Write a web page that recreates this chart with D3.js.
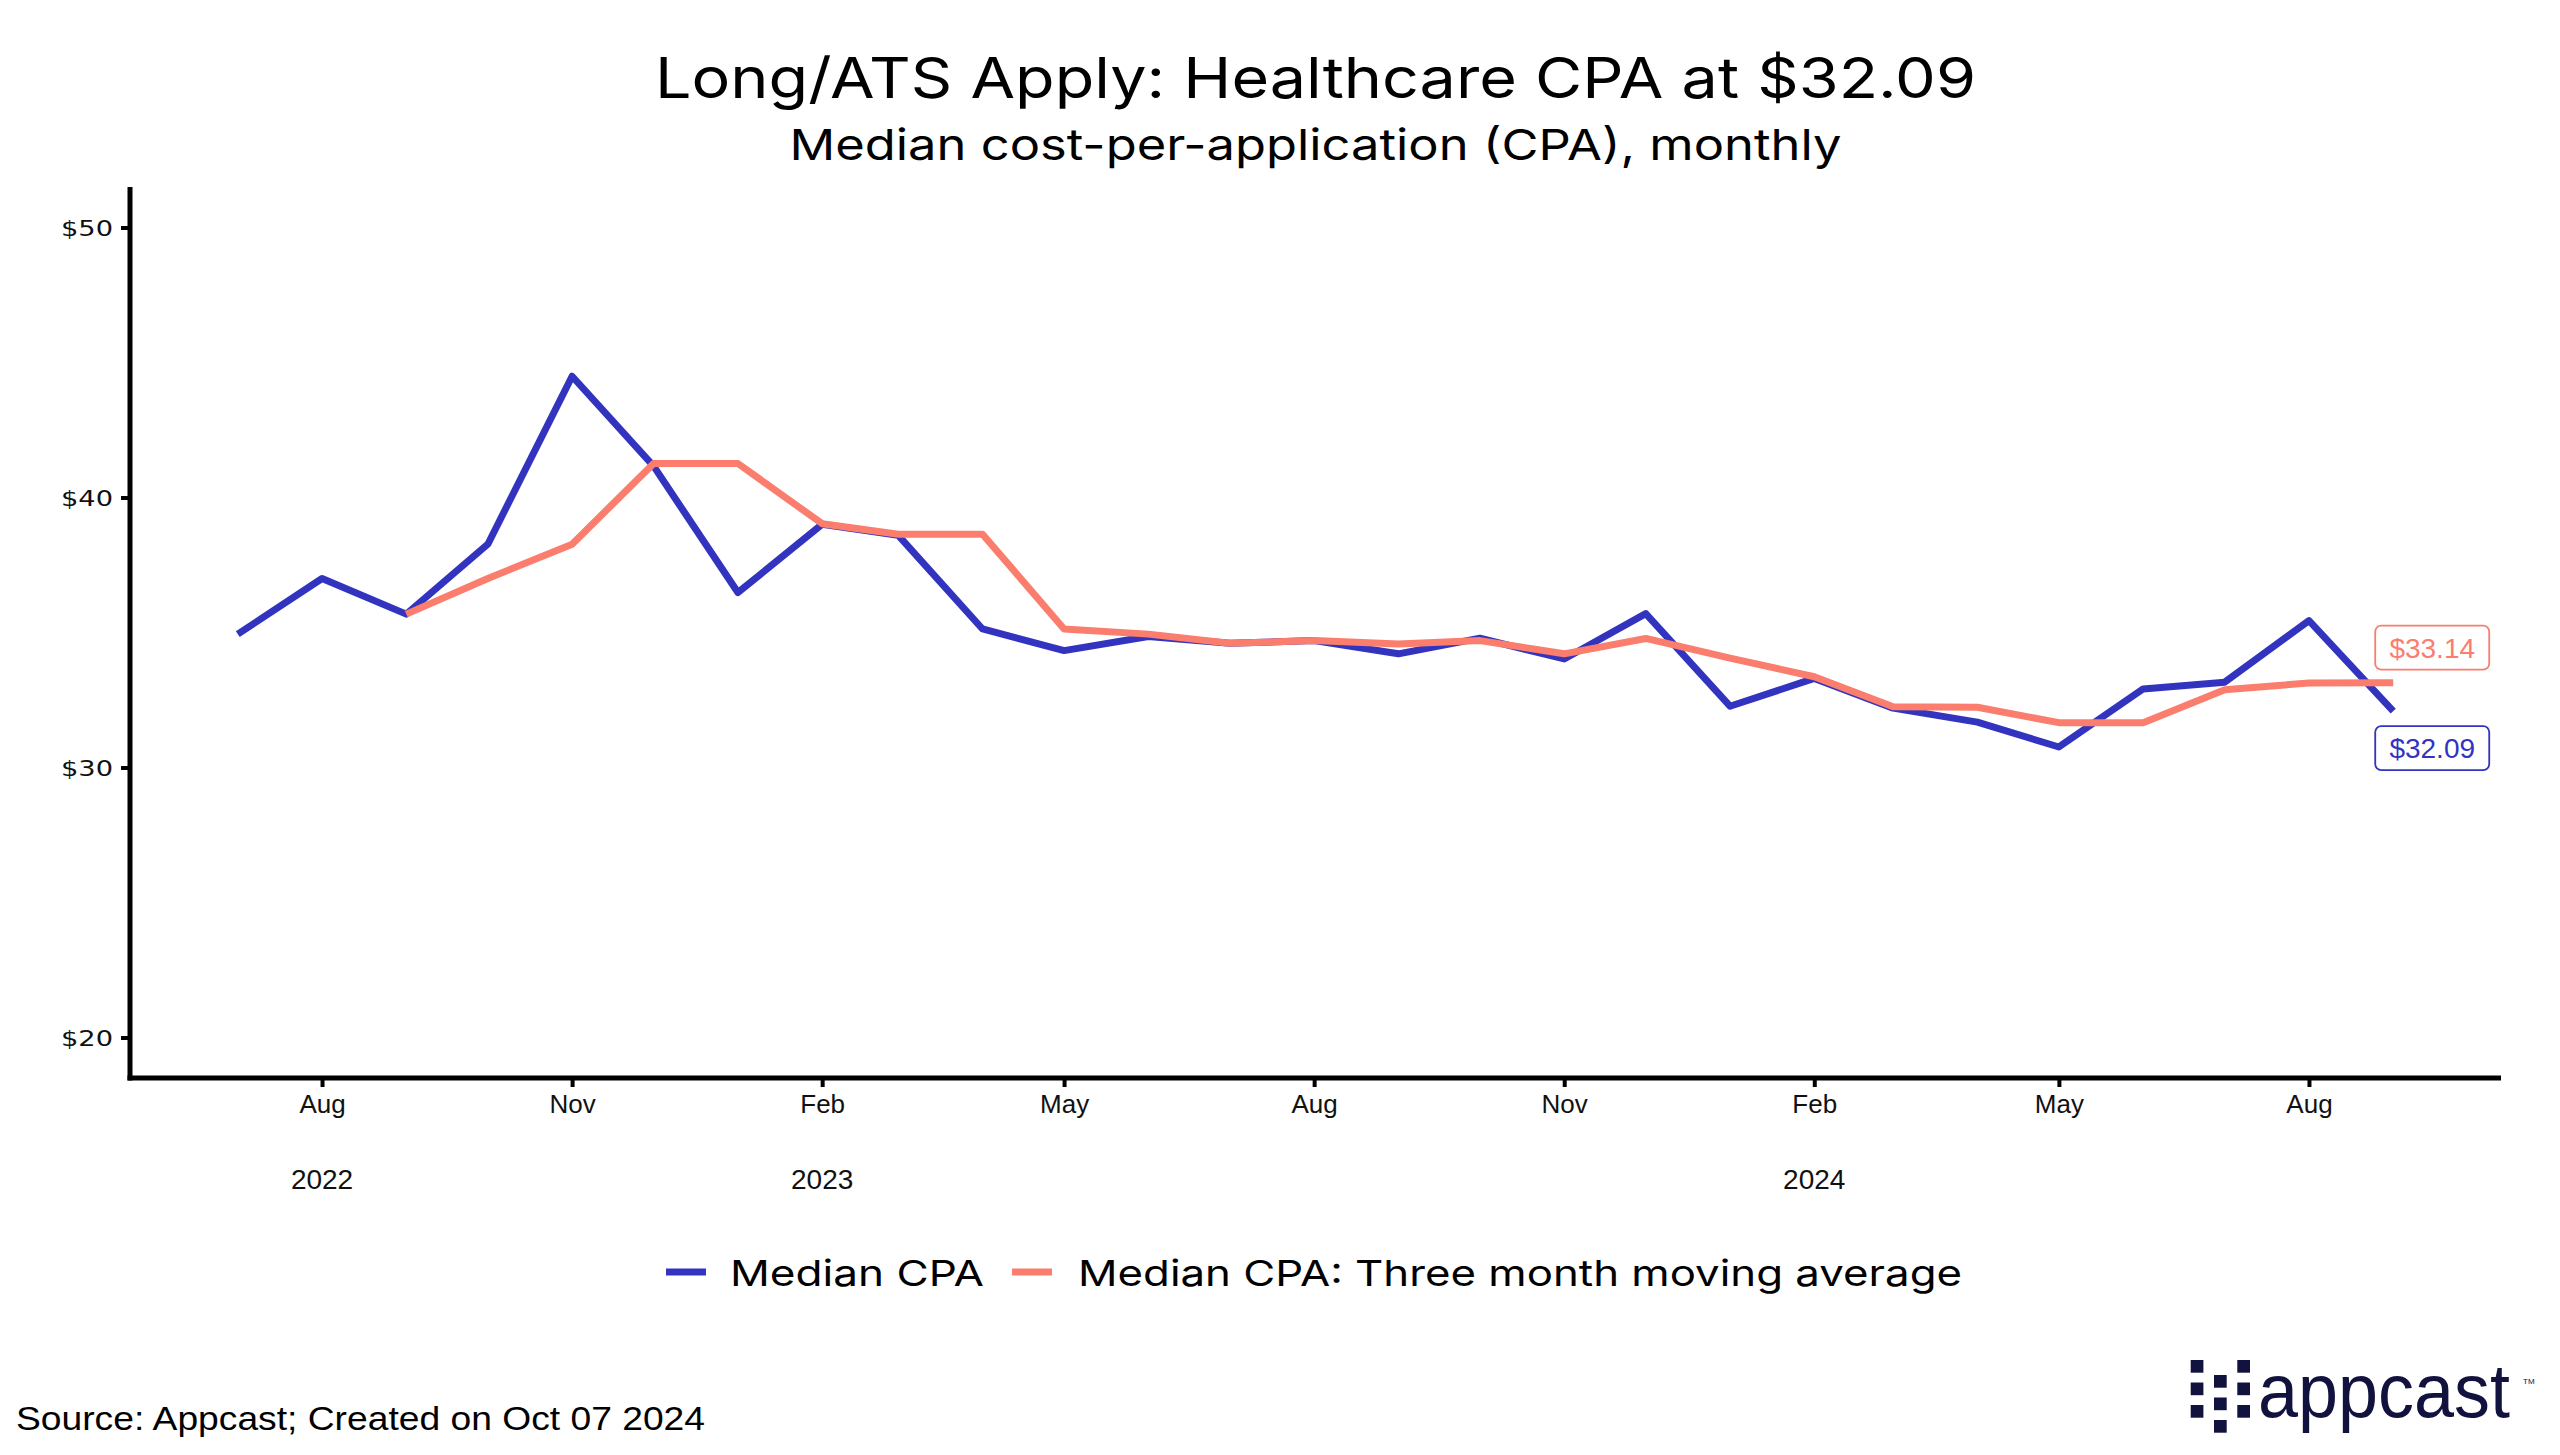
<!DOCTYPE html>
<html>
<head>
<meta charset="utf-8">
<script src="https://cdn.jsdelivr.net/npm/d3@7"></script>
<style>
  html, body { margin: 0; padding: 0; background: #ffffff; }
  svg { display: block; }
</style>
</head>
<body>
<svg id="chart" width="2560" height="1455"></svg>
<script>
// ---------------- DATA ----------------
const months = [
  "2022-07","2022-08","2022-09","2022-10","2022-11","2022-12",
  "2023-01","2023-02","2023-03","2023-04","2023-05","2023-06",
  "2023-07","2023-08","2023-09","2023-10","2023-11","2023-12",
  "2024-01","2024-02","2024-03","2024-04","2024-05","2024-06",
  "2024-07","2024-08","2024-09"
];
const medianCPA = [
  34.94, 37.00, 35.68, 38.27, 44.49, 41.16,
  36.48, 39.01, 38.60, 35.13, 34.33, 34.85,
  34.60, 34.70, 34.21, 34.79, 34.02, 35.70,
  32.27, 33.30, 32.20, 31.68, 30.76, 32.91,
  33.16, 35.44, 32.09
];
const maMonths = months.slice(2);
const movingAvgCPA = [
  35.68, 37.00, 38.27, 41.26,
  41.26, 39.03, 38.64, 38.64, 35.13, 34.94,
  34.60, 34.70, 34.57, 34.70, 34.21, 34.78,
  34.05, 33.36, 32.25, 32.23, 31.66, 31.66,
  32.88, 33.13, 33.14
];
const yTicks = [20, 30, 40, 50];
const xTickMonths = ["2022-08","2022-11","2023-02","2023-05","2023-08","2023-11","2024-02","2024-05","2024-08"];
const xTickLabels = ["Aug","Nov","Feb","May","Aug","Nov","Feb","May","Aug"];
const yearLabelMonths = ["2022-08","2023-02","2024-02"];
const yearLabels = ["2022","2023","2024"];
const seriesNames = ["Median CPA", "Median CPA: Three month moving average"];
const titleText = "Long/ATS Apply: Healthcare CPA at $32.09";
const subtitleText = "Median cost-per-application (CPA), monthly";
const sourceText = "Source: Appcast; Created on Oct 07 2024";

// ---------------- STYLE ----------------
const BLUE = "#3234bf";
const SALMON = "#fa7d6e";
const plotLeft = 130, plotRight = 2501, plotTop = 187, plotBottom = 1078;

const parse = d3.timeParse("%Y-%m");
const svg = d3.select("#chart");
svg.append("rect").attr("width", 2560).attr("height", 1455).attr("fill", "#fff");

// scales (5% padding like ggplot)
const dates = months.map(parse);
const [d0, d1] = d3.extent(dates);
const span = d1 - d0;
const x = d3.scaleTime()
  .domain([new Date(+d0 - span * 0.05), new Date(+d1 + span * 0.05)])
  .range([plotLeft, plotRight]);
const y = d3.scaleLinear().domain([18.5, 51.5]).range([plotBottom, plotTop]);

// ---------------- AXES ----------------
const yAxis = d3.axisLeft(y).tickValues(yTicks).tickSize(9).tickPadding(8)
  .tickFormat(d => "$" + d);
const gy = svg.append("g").attr("transform", `translate(${plotLeft},0)`).call(yAxis);
gy.select(".domain").remove();
gy.selectAll(".tick line").attr("stroke", "#000").attr("stroke-width", 4);
gy.selectAll(".tick text")
  .attr("font-family", "DejaVu Sans, sans-serif")
  .attr("font-size", 21)
  .attr("fill", "#111")
  .attr("textLength", 52)
  .attr("lengthAdjust", "spacingAndGlyphs")
  .attr("dy", "0.36em");

const xAxis = d3.axisBottom(x).tickValues(xTickMonths.map(parse)).tickSize(9).tickPadding(12)
  .tickFormat((d, i) => xTickLabels[i]);
const gx = svg.append("g").attr("transform", `translate(0,${plotBottom})`).call(xAxis);
gx.select(".domain").remove();
gx.selectAll(".tick line").attr("stroke", "#000").attr("stroke-width", 4);
gx.selectAll(".tick text")
  .attr("font-family", "Liberation Sans, Arial, sans-serif")
  .attr("font-size", 26)
  .attr("fill", "#111")
  .attr("dy", "0.55em");

// year labels
svg.append("g").selectAll("text").data(yearLabels).join("text")
  .attr("x", (d, i) => x(parse(yearLabelMonths[i])))
  .attr("y", 1189)
  .attr("text-anchor", "middle")
  .attr("font-family", "Liberation Sans, Arial, sans-serif")
  .attr("font-size", 28)
  .attr("fill", "#111")
  .text(d => d);

// axis lines
svg.append("line").attr("x1", plotLeft).attr("x2", plotLeft).attr("y1", plotTop).attr("y2", plotBottom + 2.5)
  .attr("stroke", "#000").attr("stroke-width", 5);
svg.append("line").attr("x1", plotLeft - 2.5).attr("x2", plotRight).attr("y1", plotBottom).attr("y2", plotBottom)
  .attr("stroke", "#000").attr("stroke-width", 5);

// ---------------- LINES ----------------
const line = d3.line().x(d => x(d.date)).y(d => y(d.value));
const blueData = months.map((m, i) => ({ date: parse(m), value: medianCPA[i] }));
const maData = maMonths.map((m, i) => ({ date: parse(m), value: movingAvgCPA[i] }));

svg.append("path").datum(blueData).attr("d", line)
  .attr("fill", "none").attr("stroke", BLUE).attr("stroke-width", 7)
  .attr("stroke-linejoin", "round");
svg.append("path").datum(maData).attr("d", line)
  .attr("fill", "none").attr("stroke", SALMON).attr("stroke-width", 7)
  .attr("stroke-linejoin", "round");

// ---------------- END LABELS ----------------
function endLabel(datum, color, dyOff) {
  const cx = x(datum.date) + 39;
  const cy = y(datum.value) + dyOff;
  const w = 114, h = 44;
  const g = svg.append("g");
  g.append("rect").attr("x", cx - w / 2).attr("y", cy - h / 2).attr("width", w).attr("height", h)
    .attr("rx", 6).attr("fill", "#fff").attr("stroke", color).attr("stroke-width", 1.8);
  g.append("text").attr("x", cx).attr("y", cy + 10).attr("text-anchor", "middle")
    .attr("font-family", "Liberation Sans, Arial, sans-serif").attr("font-size", 28)
    .attr("fill", color).text("$" + datum.value.toFixed(2));
}
endLabel(maData[maData.length - 1], SALMON, -35);
endLabel(blueData[blueData.length - 1], BLUE, 37);

// ---------------- TITLES ----------------
const cxPlot = (plotLeft + plotRight) / 2;
svg.append("text").attr("x", cxPlot).attr("y", 98).attr("text-anchor", "middle")
  .attr("font-family", "Inter, sans-serif").attr("font-size", 56).attr("fill", "#000")
  .attr("textLength", 1321).attr("lengthAdjust", "spacingAndGlyphs")
  .text(titleText);
svg.append("text").attr("x", cxPlot).attr("y", 160).attr("text-anchor", "middle")
  .attr("font-family", "Inter, sans-serif").attr("font-size", 43).attr("fill", "#000")
  .attr("textLength", 1052).attr("lengthAdjust", "spacingAndGlyphs")
  .text(subtitleText);

// ---------------- LEGEND ----------------
const legend = svg.append("g");
const legendItems = [
  { name: seriesNames[0], color: BLUE, kx: 666, tx: 730, tw: 254 },
  { name: seriesNames[1], color: SALMON, kx: 1012, tx: 1078, tw: 884 }
];
legendItems.forEach(it => {
  legend.append("line").attr("x1", it.kx).attr("x2", it.kx + 40).attr("y1", 1272).attr("y2", 1272)
    .attr("stroke", it.color).attr("stroke-width", 7);
  legend.append("text").attr("x", it.tx).attr("y", 1286)
    .attr("font-family", "Inter, sans-serif").attr("font-size", 36).attr("fill", "#000")
    .attr("textLength", it.tw).attr("lengthAdjust", "spacingAndGlyphs")
    .text(it.name);
});

// ---------------- SOURCE ----------------
svg.append("text").attr("x", 16).attr("y", 1430)
  .attr("font-family", "Liberation Sans, Arial, sans-serif").attr("font-size", 34).attr("fill", "#000")
  .attr("textLength", 689).attr("lengthAdjust", "spacingAndGlyphs")
  .text(sourceText);

// ---------------- LOGO ----------------
const NAVY = "#12123f";
const logo = svg.append("g");
const sq = 12.7;
const logoCols = [2190.7, 2214, 2237.3];
const logoRows = [[1360, 1382.5, 1405], [1375, 1397.5, 1420], [1360, 1382.5, 1405]];
logoCols.forEach((cx, ci) => {
  logoRows[ci].forEach(ry => {
    logo.append("rect").attr("x", cx).attr("y", ry).attr("width", sq).attr("height", sq).attr("fill", NAVY);
  });
});
logo.append("text").attr("x", 2258).attr("y", 1417)
  .attr("font-family", "Liberation Sans, Arial, sans-serif").attr("font-size", 76).attr("fill", NAVY)
  .attr("textLength", 252).attr("lengthAdjust", "spacingAndGlyphs")
  .text("appcast");
logo.append("text").attr("x", 2523).attr("y", 1384)
  .attr("font-family", "Liberation Sans, Arial, sans-serif").attr("font-size", 8).attr("fill", NAVY)
  .text("TM");
</script>
</body>
</html>
